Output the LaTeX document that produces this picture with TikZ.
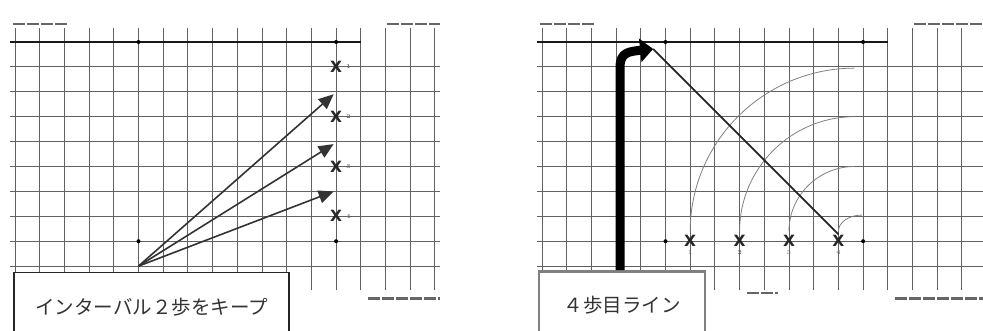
\documentclass[tikz,border=0pt]{standalone}
\usepackage{fontspec}
\newfontfamily\jpfont{Noto Sans CJK JP}
\newfontfamily\markfont{DejaVu Sans}
\usepackage{tikz}
\usetikzlibrary{positioning}
\usetikzlibrary{arrows.meta}
\usetikzlibrary{calc}

\tikzset{
  gridline/.style={black!62, line width=1pt},
  topline/.style={black!90, line width=1.5pt},
  smudge/.style={black!60, line width=2.4pt, dash pattern=on 12pt off 2pt},
  xmark/.style={inner sep=0pt, font=\markfont\bfseries\fontsize{15.5}{15.5}\selectfont, text=black!85},
  xnum/.style={inner sep=0pt, font=\fontsize{6}{6}\selectfont\bfseries, text=black!60},
  pace/.style={black!80, line width=1.6pt, -{Triangle[length=15pt,width=13pt]}},
  bigturn/.style={black, line width=9pt, -{Triangle[length=13pt,width=23pt]}},
  diag/.style={black!85, line width=1.7pt},
  curve/.style={black!50, line width=0.8pt},
  caption/.style={fill=white, anchor=north, inner sep=0pt, minimum height=68pt,
    font=\jpfont\fontsize{19.5}{20}\selectfont, text=black!80},
}

\newcommand{\chartpaper}[1]{%
  \foreach \c in {0,...,17} \draw[gridline] (\c,-0.56) -- (\c,9.96);
  \foreach \r in {1,...,9} \draw[gridline] (-0.2,\r) -- (#1,\r);
  \draw[topline] (-0.2,0) -- (14,0);
  \foreach \c/\r in {5/0,13/0,5/8,13/8} \fill (\c,\r) circle (2pt);
  \draw[smudge] (-0.1,-0.72) -- (2.15,-0.72);
  \draw[smudge] (15.05,-0.72) -- (#1,-0.72);
  \draw[smudge] (14.3,10.3) -- (#1,10.3);
  \draw[smudge] (8.3,10.08) -- (9.55,10.08);
}

\begin{document}
\begin{tikzpicture}
    \useasboundingbox (0,0) rectangle (983pt,-331pt);

    % interval
    \begin{scope}[shift={(15pt,-42pt)}, x=24.7pt, y=-24.9pt]
        \chartpaper{17.2}

        \coordinate (o) at (5,9);
        \foreach \r [count=\i] in {1,3,5,7} {
            \node[xmark] (m\i) at (13,\r) {X};
            \node[xnum, right=4pt of m\i] (n\i) {\i};
        }
        \foreach \r [count=\i] in {2.1,4.1,6} {
            \coordinate (t\i) at (12.9,\r);
            \draw[pace] (o) -- (t\i);
        }

        \node[caption, draw=black!85, line width=1.4pt, minimum width=275pt] (keep) at (5.53,9.24) {インターバル２歩をキープ};
    \end{scope}

    % fourth step line
    \begin{scope}[shift={(542pt,-42pt)}, x=24.7pt, y=-24.9pt]
        \chartpaper{17.85}

        \foreach \i in {1,...,4} {
            \node[xmark] (x\i) at ({4+2*\i},8) {X};
            \node[xnum, below=3pt of x\i] (k\i) {\i};
        }
        \foreach \s/\ex/\ey in {6/12.65/1.05, 8/12.65/3, 10/12.65/5, 12/12.95/6.95}
            \draw[curve] (\s,7.6) .. controls (\s,{7.6-0.55*(7.6-\ey)}) and ({\ex-0.55*(\ex-\s)},\ey) .. (\ex,\ey);

        \coordinate (tip) at (4.5,0.28);
        \coordinate (shaft) at (3.16,0);
        \draw[diag] (tip) -- ([yshift=1pt]x4.north);

        \node[caption, draw=black!50, line width=2.5pt, minimum width=166pt] (line4) at (3.24,9.16) {４歩目ライン};

        \draw[bigturn] (line4.north -| shaft) -- (3.16,1.0) .. controls (3.16,0.4) and (3.55,0.38) .. (tip);
    \end{scope}
\end{tikzpicture}
\end{document}
